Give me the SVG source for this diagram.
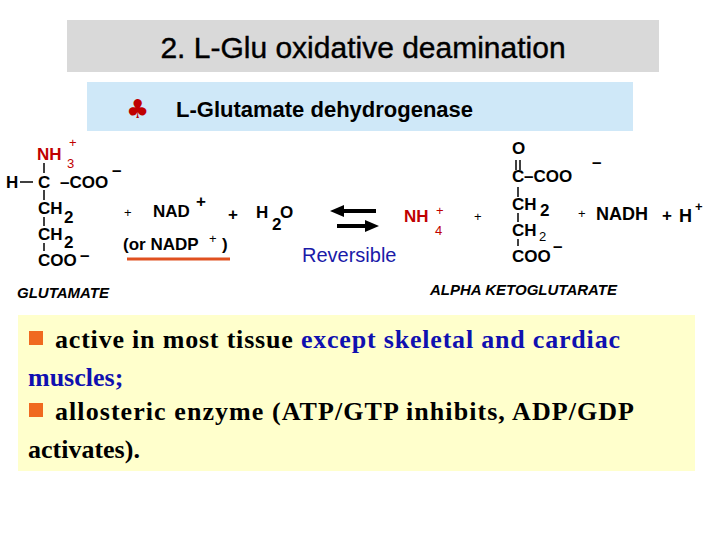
<svg xmlns="http://www.w3.org/2000/svg" width="720" height="540" viewBox="0 0 720 540">
<style>
.c{font-family:"Liberation Sans",Arial,sans-serif;font-size:17px;font-weight:bold;fill:#000}
.s{font-family:"Liberation Sans",Arial,sans-serif;font-size:13px;fill:#000}
.r{fill:#c00000}
.b{stroke:#000;stroke-width:1.5}
.lab{font-family:"Liberation Sans",Arial,sans-serif;font-size:15px;font-weight:bold;font-style:italic}
.t{font-family:"Liberation Serif","Times New Roman",serif;font-size:26px;font-weight:bold}
</style>
<rect width="720" height="540" fill="#fff"/>
<rect x="67" y="20" width="592" height="52" fill="#d9d9d9"/>
<text x="363" y="58" text-anchor="middle" font-family="Liberation Sans,Arial,sans-serif" font-size="30" stroke="#000" stroke-width="0.4">2. L-Glu oxidative deamination</text>
<rect x="87" y="82" width="546" height="49" fill="#cfe8f8"/>
<text x="126" y="118" font-family="DejaVu Sans,sans-serif" font-size="26" fill="#c00000">♣</text>
<text x="176" y="117" font-family="Liberation Sans,Arial,sans-serif" font-size="22" font-weight="bold">L-Glutamate dehydrogenase</text>
<!-- glutamate -->
<text class="c r" x="37" y="160">NH</text><text class="s r" x="69" y="147">+</text><text class="s r" x="67" y="168">3</text>
<text class="c" x="6" y="188">H</text><line class="b" x1="20" y1="182" x2="33" y2="182"/>
<text class="c" x="38" y="188">C</text><text class="c" x="60" y="188">–COO</text><text class="c" x="112" y="176">–</text>
<line class="b" x1="44" y1="163" x2="44" y2="173"/>
<line class="b" x1="44" y1="190" x2="44" y2="200"/>
<text class="c" x="38" y="214">CH</text><text class="c" x="64" y="223">2</text>
<line class="b" x1="44" y1="217" x2="44" y2="226"/>
<text class="c" x="38" y="240">CH</text><text class="c" x="64" y="248">2</text>
<line class="b" x1="44" y1="243" x2="44" y2="251"/>
<text class="c" x="38" y="266">COO</text><text class="c" x="80" y="261">–</text>
<text class="s" x="124" y="217">+</text>
<text class="c" x="153" y="217">NAD</text><text class="c" x="196" y="207">+</text>
<text class="c" x="228" y="220">+</text>
<text class="c" x="256" y="218">H</text><text class="c" x="272" y="230">2</text><text class="c" x="280" y="218">O</text>
<text class="c" x="123" y="250">(or NADP</text><text class="s" x="209" y="243">+</text><text class="c" x="222" y="250">)</text>
<line x1="127" y1="259" x2="230" y2="259" stroke="#e05020" stroke-width="3"/>
<!-- arrows -->
<line x1="342" y1="211" x2="376" y2="211" stroke="#000" stroke-width="4"/>
<polygon points="330,211 344,205 344,217" fill="#000"/>
<line x1="337" y1="226" x2="366" y2="226" stroke="#000" stroke-width="4"/>
<polygon points="379,226 365,220 365,232" fill="#000"/>
<text x="302" y="262" font-family="Liberation Sans,Arial,sans-serif" font-size="20" fill="#1a1aa8">Reversible</text>
<text class="c r" x="404" y="222">NH</text><text class="s r" x="436" y="215">+</text><text class="s r" x="435" y="235">4</text>
<text class="s" x="474" y="221">+</text>
<!-- AKG -->
<text class="c" x="512" y="154">O</text>
<line class="b" x1="516" y1="160" x2="516" y2="170"/><line class="b" x1="520" y1="160" x2="520" y2="170"/>
<text class="c" x="512" y="182">C</text><text class="c" x="524" y="182">–COO</text><text class="c" x="592" y="168">–</text>
<line class="b" x1="518" y1="187" x2="518" y2="197"/>
<text class="c" x="512" y="210">CH</text><text class="c" x="540" y="216">2</text>
<line class="b" x1="518" y1="213" x2="518" y2="222"/>
<text class="c" x="512" y="236">CH</text><text class="s" x="539" y="241">2</text>
<line class="b" x1="518" y1="239" x2="518" y2="246"/>
<text class="c" x="512" y="262">COO</text><text class="c" x="553" y="252">–</text>
<text class="s" x="578" y="218">+</text>
<text x="596" y="220" font-family="Liberation Sans,Arial,sans-serif" font-size="18" font-weight="bold">NADH</text>
<text class="c" x="662" y="221">+</text>
<text x="679" y="222" font-family="Liberation Sans,Arial,sans-serif" font-size="18" font-weight="bold">H</text>
<text class="s" x="695" y="211" font-weight="bold">+</text>
<text class="lab" x="17" y="298">GLUTAMATE</text>
<text class="lab" x="430" y="295">ALPHA KETOGLUTARATE</text>
<!-- notes -->
<rect x="18" y="315" width="677" height="156" fill="#ffffcc"/>
<rect x="29" y="331" width="14" height="14" fill="#f06a20"/>
<text class="t" x="55" y="348" textLength="565">active in most tissue <tspan fill="#1010b0">except skeletal and cardiac</tspan></text>
<text class="t" x="28" y="386" fill="#1010b0">muscles;</text>
<rect x="29" y="403" width="14" height="14" fill="#f06a20"/>
<text class="t" x="55" y="420" textLength="579">allosteric enzyme (ATP/GTP inhibits, ADP/GDP</text>
<text class="t" x="28" y="458">activates).</text>
</svg>
